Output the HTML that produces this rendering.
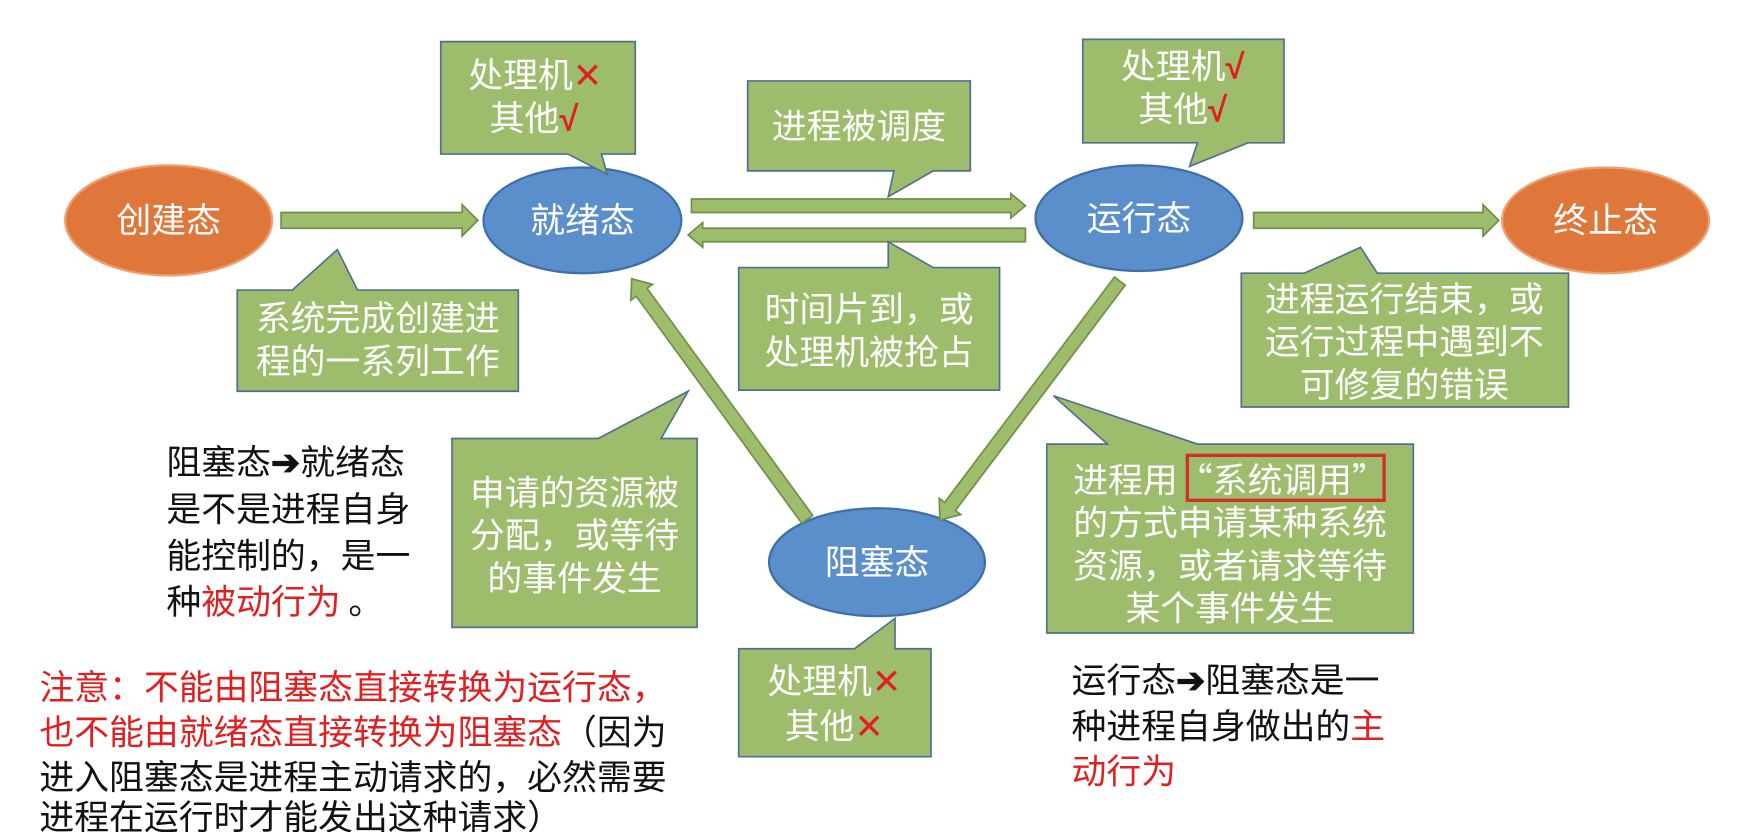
<!DOCTYPE html>
<html><head><meta charset="utf-8"><style>
html,body{margin:0;padding:0;background:#fff;width:1754px;height:832px;overflow:hidden}
svg{display:block}
text{font-family:"Noto Sans CJK SC","Liberation Sans",sans-serif;font-size:31px}
.w{fill:#fff;text-anchor:middle}
.b{fill:#111}
.r{fill:#e02020}
.ck{font-family:"Liberation Sans",sans-serif;font-weight:bold;fill:#e02020}
.box{fill:#9dbd6c;stroke:#51708f;stroke-width:1.5}
.arr{fill:#9dbd6c;stroke:#6f8f4a;stroke-width:1.5}
</style></head><body>
<svg width="1754" height="832" viewBox="0 0 1560 740" preserveAspectRatio="none">
<ellipse cx="150" cy="196" rx="92" ry="49" fill="#e0773a" stroke="#f0a070" stroke-width="2"/>
<ellipse cx="518" cy="196" rx="88" ry="47" fill="#5b8fcb" stroke="#3f6fa8" stroke-width="2"/>
<ellipse cx="1013" cy="194" rx="92" ry="47" fill="#5b8fcb" stroke="#3f6fa8" stroke-width="2"/>
<ellipse cx="1428" cy="196" rx="92" ry="47" fill="#e0773a" stroke="#f0a070" stroke-width="2"/>
<ellipse cx="780" cy="500" rx="96" ry="48" fill="#5b8fcb" stroke="#3f6fa8" stroke-width="2"/>
<text class="w" x="150" y="207">创建态</text>
<text class="w" x="518" y="207">就绪态</text>
<text class="w" x="1013" y="205">运行态</text>
<text class="w" x="1428" y="207">终止态</text>
<text class="w" x="780" y="511">阻塞态</text>

<g transform="translate(250,196)"><polygon class="arr" points="0,-7 161,-7 161,-14 175,0 161,14 161,7 0,7"/></g>
<g transform="translate(615,183)"><polygon class="arr" points="0,-6 284,-6 284,-11 297,0 284,11 284,6 0,6"/></g>
<g transform="translate(912,209) rotate(180)"><polygon class="arr" points="0,-6 287,-6 287,-11 300,0 287,11 287,6 0,6"/></g>
<g transform="translate(1115,196)"><polygon class="arr" points="0,-7 204,-7 204,-14 218,0 204,14 204,7 0,7"/></g>
<g transform="translate(718,462) rotate(-126.1)"><polygon class="arr" points="0,-6 250,-6 250,-12 265,0 250,12 250,6 0,6"/></g>
<g transform="translate(996,250) rotate(127)"><polygon class="arr" points="0,-6 251,-6 251,-12 266,0 251,12 251,6 0,6"/></g>

<polygon class="box" points="392,37 565,37 565,137 535,137 540,155 505,137 392,137"/>
<text class="w" x="476" y="78">处理机<tspan class="r">✕</tspan></text>
<text class="w" x="475" y="116">其他<tspan class="ck">√</tspan></text>

<polygon class="box" points="665,72 863,72 863,152 830,152 790,175 795,152 665,152"/>
<text class="w" x="764" y="123">进程被调度</text>

<polygon class="box" points="963,35 1142,35 1142,127 1110,127 1058,148 1065,127 963,127"/>
<text class="w" x="1052" y="70">处理机<tspan class="ck">√</tspan></text>
<text class="w" x="1052" y="108">其他<tspan class="ck">√</tspan></text>

<polygon class="box" points="211,258 260,258 300,222 318,258 461,258 461,348 211,348"/>
<text class="w" x="336" y="294">系统完成创建进</text>
<text class="w" x="336" y="332">程的一系列工作</text>

<polygon class="box" points="657,238 790,238 790,215 830,238 889,238 889,347 657,347"/>
<text class="w" x="773" y="286">时间片到，或</text>
<text class="w" x="773" y="324">处理机被抢占</text>

<polygon class="box" points="1104,243 1160,243 1210,220 1225,243 1395,243 1395,362 1104,362"/>
<text class="w" x="1249" y="277">进程运行结束，或</text>
<text class="w" x="1249" y="315">运行过程中遇到不</text>
<text class="w" x="1249" y="353">可修复的错误</text>

<polygon class="box" points="402,390 532,390 612,348 588,390 620,390 620,558 402,558"/>
<text class="w" x="511" y="449">申请的资源被</text>
<text class="w" x="511" y="487">分配，或等待</text>
<text class="w" x="511" y="525">的事件发生</text>

<polygon class="box" points="931,395 985,395 937,352 1065,395 1257,395 1257,563 931,563"/>
<rect x="1056" y="405" width="175" height="40" fill="none" stroke="#d0302a" stroke-width="3"/>
<text class="w" x="1094" y="438">进程用“系统调用”</text>
<text class="w" x="1094" y="476">的方式申请某种系统</text>
<text class="w" x="1094" y="514">资源，或者请求等待</text>
<text class="w" x="1094" y="552">某个事件发生</text>

<polygon class="box" points="657,577 760,577 796,550 796,577 828,577 828,673 657,673"/>
<text class="w" x="742" y="617">处理机<tspan class="r">✕</tspan></text>
<text class="w" x="742" y="657">其他<tspan class="r">✕</tspan></text>

<text class="b" x="148" y="422">阻塞态<tspan font-weight="bold">➔</tspan>就绪态</text>
<text class="b" x="148" y="464">是不是进程自身</text>
<text class="b" x="148" y="505">能控制的，是一</text>
<text class="b" x="148" y="546">种<tspan class="r">被动行为</tspan> 。</text>

<text class="r" x="35" y="622">注意：不能由阻塞态直接转换为运行态，</text>
<text class="b" x="35" y="662"><tspan class="r">也不能由就绪态直接转换为阻塞态</tspan>（因为</text>
<text class="b" x="35" y="702">进入阻塞态是进程主动请求的，必然需要</text>
<text class="b" x="35" y="738">进程在运行时才能发出这种请求）</text>

<text class="b" x="953" y="616">运行态<tspan font-weight="bold">➔</tspan>阻塞态是一</text>
<text class="b" x="953" y="657">种进程自身做出的<tspan class="r">主</tspan></text>
<text class="r" x="953" y="697">动行为</text>
</svg>
</body></html>
